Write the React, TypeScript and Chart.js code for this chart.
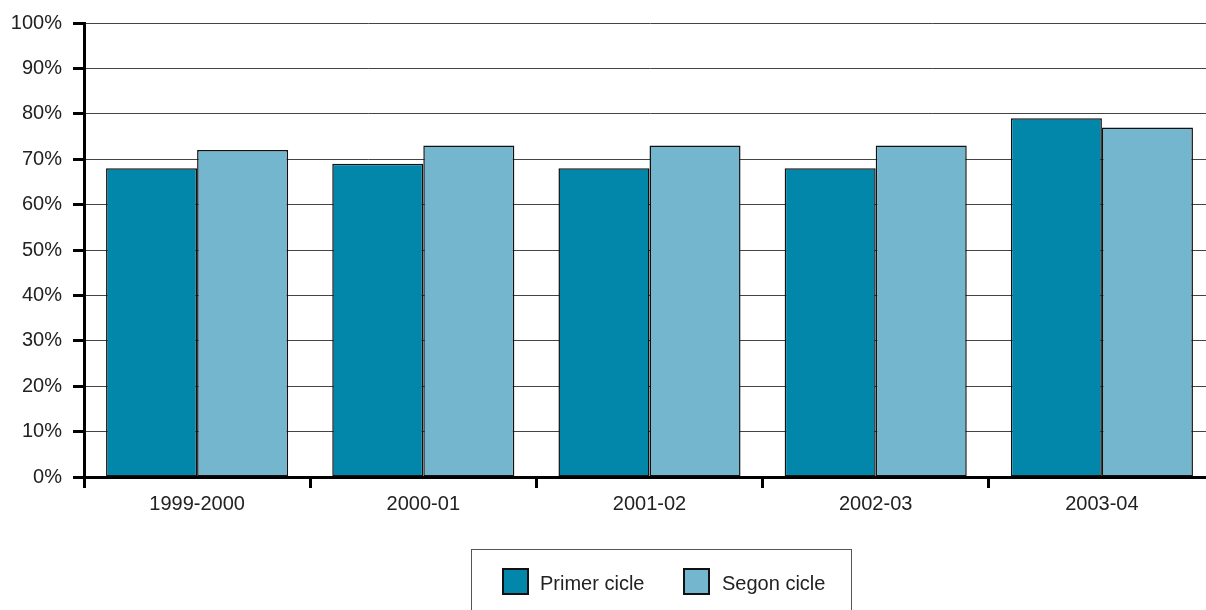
import React, { useEffect, useRef } from "react";
import { Chart, registerables } from "chart.js";

Chart.register(...registerables);

const categories = ["1999-2000", "2000-01", "2001-02", "2002-03", "2003-04"];
const primerCicle = [68, 69, 68, 68, 79];
const segonCicle = [72, 73, 73, 73, 77];
const seriesNames = ["Primer cicle", "Segon cicle"];
const seriesColors = ["#0287AB", "#74B6CD"];

const FONT = "'Liberation Sans', Arial, Helvetica, sans-serif";

export default function App() {
  const ref = useRef<HTMLCanvasElement | null>(null);

  useEffect(() => {
    if (!ref.current) return;
    const chart = new Chart(ref.current, {
      type: "bar",
      data: {
        labels: categories,
        datasets: [
          {
            label: seriesNames[0],
            data: primerCicle,
            backgroundColor: seriesColors[0],
            borderColor: "#111",
            borderWidth: 1.5,
            borderSkipped: false,
            categoryPercentage: 0.805,
            barPercentage: 1,
          },
          {
            label: seriesNames[1],
            data: segonCicle,
            backgroundColor: seriesColors[1],
            borderColor: "#111",
            borderWidth: 1.5,
            borderSkipped: false,
            categoryPercentage: 0.805,
            barPercentage: 1,
          },
        ],
      },
      options: {
        responsive: false,
        animation: false,
        layout: { padding: { top: 22, right: 0, left: 0, bottom: 0 } },
        plugins: {
          legend: { display: false },
          tooltip: { enabled: false },
        },
        scales: {
          x: {
            grid: {
              drawOnChartArea: false,
              drawTicks: true,
              tickLength: 11,
              tickColor: "#000",
              tickWidth: 3,
              offset: true,
            },
            border: { display: true, color: "#000", width: 3 },
            ticks: {
              color: "#222",
              font: { family: FONT, size: 20 },
              padding: 4,
            },
            afterFit: (scale: any) => {
              scale.height = 133;
            },
          },
          y: {
            min: 0,
            max: 100,
            ticks: {
              stepSize: 10,
              color: "#222",
              font: { family: FONT, size: 20 },
              padding: 11,
              callback: (v: any) => v + "%",
            },
            grid: {
              color: "#444",
              lineWidth: 1,
              tickLength: 11,
              tickColor: "#000",
              tickWidth: 3,
            },
            border: { display: true, color: "#000", width: 3 },
            afterFit: (scale: any) => {
              scale.width = 84;
            },
          },
        },
      },
    });
    return () => chart.destroy();
  }, []);

  const textStyle: React.CSSProperties = {
    position: "absolute",
    fontFamily: FONT,
    fontSize: 20,
    lineHeight: "20px",
    color: "#222",
    whiteSpace: "nowrap",
  };
  const swatch = (left: number, color: string): React.CSSProperties => ({
    position: "absolute",
    left,
    top: 568,
    width: 27,
    height: 27,
    boxSizing: "border-box",
    border: "2px solid #111",
    background: color,
  });

  return (
    <div
      style={{
        position: "absolute",
        left: 0,
        top: 0,
        width: 1206,
        height: 610,
        overflow: "hidden",
        background: "#fff",
      }}
    >
      <canvas
        ref={ref}
        width={1215}
        height={610}
        style={{ position: "absolute", left: 0, top: 0 }}
      />
      <div
        style={{
          position: "absolute",
          left: 471,
          top: 549,
          width: 381,
          height: 80,
          boxSizing: "border-box",
          border: "1.5px solid #555",
        }}
      />
      <div style={swatch(502, seriesColors[0])} />
      <div style={{ ...textStyle, left: 540, top: 573 }}>{seriesNames[0]}</div>
      <div style={swatch(683, seriesColors[1])} />
      <div style={{ ...textStyle, left: 722, top: 573 }}>{seriesNames[1]}</div>
    </div>
  );
}
